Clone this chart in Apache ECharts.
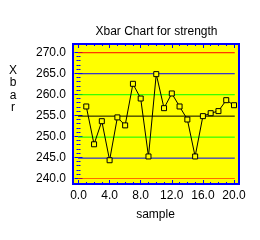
<!DOCTYPE html>
<html><head><meta charset="utf-8">
<script src="https://cdn.jsdelivr.net/npm/echarts@6/dist/echarts.min.js"></script>
<style>html,body{margin:0;padding:0;background:#fff}#c{width:260px;height:240px}</style>
</head><body><div id="c"></div>
<script>
var samples = [1,2,3,4,5,6,7,8,9,10,11,12,13,14,15,16,17,18,19,20];
var xbar = [257.1,248.1,253.6,244.3,254.5,252.6,262.5,259.0,245.2,264.8,256.7,260.2,257.1,254.0,245.2,254.8,255.5,256.0,258.6,257.4];
var limitNames = ['UCL','+2s','+1s','CL','-1s','-2s','LCL'];
var limitValues = [269.9,264.9,259.9,254.8,249.8,244.8,239.9];
var limitColors = ['#ff0000','#0000ff','#00ff00','#000000','#00ff00','#0000ff','#ff0000'];
var limitSpan = [-0.15, 20.1];
var xTicks = [0,20,4];
var yTicks = [240,270,5];
var FONT = 'Liberation Sans';

var chart = echarts.init(document.getElementById('c'), null, {renderer:'canvas'});
var series = [];
limitValues.forEach(function(v,i){
  series.push({type:'line', name:limitNames[i], xAxisIndex:0, yAxisIndex:0, symbol:'none', silent:true,
    data:[[limitSpan[0],v],[limitSpan[1],v]], lineStyle:{color:limitColors[i], width:1}, z:2});
});
series.push({type:'line', name:'Xbar', xAxisIndex:0, yAxisIndex:0,
  data:samples.map(function(s,i){return [s,xbar[i]];}),
  symbol:'rect', symbolSize:5, showSymbol:true,
  lineStyle:{color:'#000', width:1}, itemStyle:{color:'#ffff00', borderColor:'#000', borderWidth:1}, z:5});

function tickAxis(pos, off, showLabel, isX, grid){
  var t = isX ? xTicks : yTicks;
  return {type:'value', gridIndex:grid, position:pos, offset:off, min:t[0], max:t[1], interval:t[2],
    axisLine:{show:false}, splitLine:{show:false},
    axisTick:{show:true, inside:true, length:4, lineStyle:{color:'#0000ff', width:1}},
    minorTick:{show:true, splitNumber:isX?4:5, length:2, lineStyle:{color:'#0000ff', width:1}},
    axisLabel:{show:showLabel, color:'#000', fontSize:12, fontFamily:FONT, margin:isX?6:7,
      formatter:function(v){return v.toFixed(1);}}};
}

chart.setOption({
  animation:false,
  backgroundColor:'#ffffff',
  grid:[
    {left:78.5, right:26, top:52.3, bottom:61.7, show:false},
    {left:73, right:21, top:44, bottom:56, show:true, backgroundColor:'#ffff00', borderColor:'#0000ff', borderWidth:2, z:0}
  ],
  xAxis:[tickAxis('bottom',5.7,true,true,0), tickAxis('top',8.3,false,true,0),
         {type:'value', gridIndex:1, show:false}],
  yAxis:[tickAxis('left',5.5,true,false,0), tickAxis('right',5,false,false,0),
         {type:'value', gridIndex:1, show:false}],
  graphic:[
    {type:'text', style:{text:'Xbar Chart for strength', fontSize:12, fontFamily:FONT, fill:'#000', x:156.5, y:32, align:'center', verticalAlign:'middle'}},
    {type:'text', style:{text:'sample', fontSize:12, fontFamily:FONT, fill:'#000', x:155.5, y:215, align:'center', verticalAlign:'middle'}},
    {type:'text', style:{text:'X\nb\na\nr', fontSize:12, fontFamily:FONT, fill:'#000', x:13, y:89, align:'center', verticalAlign:'middle', lineHeight:12.5}}
  ],
  series:series
});
</script></body></html>
